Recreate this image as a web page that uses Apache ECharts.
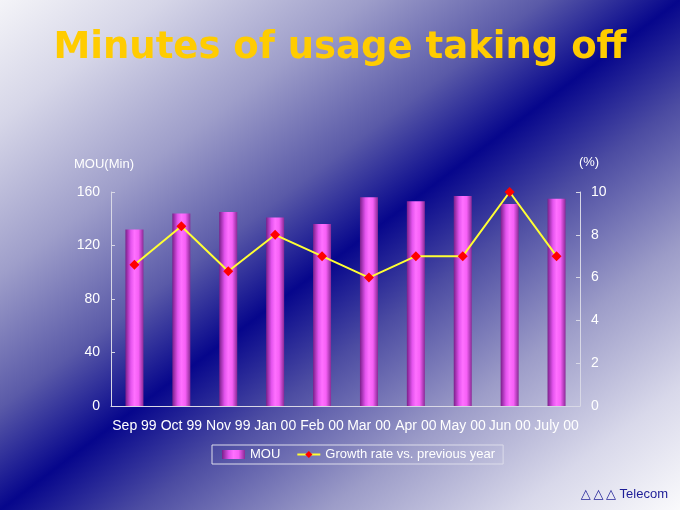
<!DOCTYPE html>
<html>
<head>
<meta charset="utf-8">
<title>Minutes of usage taking off</title>
<script src="https://cdn.jsdelivr.net/npm/echarts@6/dist/echarts.min.js"></script>
<style>
	html, body { margin: 0; padding: 0; }
	#div_chart { width: 680px; height: 510px; }
</style>
</head>
<body>
<div id="div_chart"></div>
<script>
// 横轴月份
var months = ['Sep 99', 'Oct 99', 'Nov 99', 'Jan 00', 'Feb 00', 'Mar 00', 'Apr 00', 'May 00', 'Jun 00', 'July 00'];
// MOU (分钟)
var mou = [132, 144, 145, 141, 136, 156, 153, 157, 151, 155];
// 同比增长率 (%)
var growth = [6.6, 8.4, 6.3, 8.0, 7.0, 6.0, 7.0, 7.0, 10.0, 7.0];
// 坐标轴刻度
var mouTicks = [0, 40, 80, 120, 160];
var rateTicks = [0, 2, 4, 6, 8, 10];

var font = 'Liberation Sans, Arial, DejaVu Sans, sans-serif';
var axisColor = '#d8d8e6';

// 背景: 左上到右下的对角渐变, 中间深蓝
var bg = new echarts.graphic.LinearGradient(95.2, -71.4, 584.8, 581.4, [
	{offset: 0, color: '#f4f4f8'},
	{offset: 0.12, color: '#d6d6e8'},
	{offset: 0.27, color: '#9e9eca'},
	{offset: 0.4, color: '#5a5aa8'},
	{offset: 0.5, color: '#06068c'},
	{offset: 0.6, color: '#4c4ca2'},
	{offset: 0.74, color: '#9c9cc8'},
	{offset: 0.88, color: '#d8d8ea'},
	{offset: 1, color: '#fafafc'}
], true);

// 柱子的圆柱效果
var barColor = new echarts.graphic.LinearGradient(0, 0, 1, 0, [
	{offset: 0, color: '#7a1f8a'},
	{offset: 0.3, color: '#e454ee'},
	{offset: 0.5, color: '#ff70ff'},
	{offset: 0.72, color: '#f660f6'},
	{offset: 1, color: '#8a2a96'}
]);

var option = {
	backgroundColor: bg,
	animation: false,
	title: [{
		text: 'Minutes of usage taking off',
		left: 'center',
		top: 25,
		textStyle: {
			fontFamily: 'DejaVu Sans',
			fontSize: 37,
			fontWeight: 'bold',
			color: '#ffcc00'
		}
	}, {
		// 右下角公司名
		text: '{tri|\u25B3\u2009\u25B3\u2009\u25B3} Telecom',
		right: 7,
		bottom: 4,
		textStyle: {
			fontFamily: font,
			fontSize: 13,
			fontWeight: 'normal',
			color: '#1c1c96',
			rich: {
				tri: {fontFamily: 'DejaVu Sans', fontSize: 13, color: '#1c1c96'}
			}
		}
	}],
	legend: {
		left: 212,
		top: 445,
		padding: [3, 8, 3, 10],
		itemWidth: 23,
		itemHeight: 9,
		itemGap: 16,
		borderColor: '#dcdcea',
		borderWidth: 1,
		textStyle: {fontFamily: font, fontSize: 13, color: '#ffffff'},
		data: [{name: 'MOU', icon: 'rect'}, 'Growth rate vs. previous year']
	},
	grid: {left: 111, right: 100, top: 192, bottom: 104},
	xAxis: {
		type: 'category',
		data: months,
		axisLine: {lineStyle: {color: axisColor}},
		axisTick: {inside: true, length: 5, lineStyle: {color: axisColor}},
		axisLabel: {color: '#ffffff', fontFamily: font, fontSize: 14, margin: 13, interval: 0}
	},
	yAxis: [{
		type: 'value',
		name: 'MOU(Min)',
		nameGap: 21,
		nameTextStyle: {color: '#ffffff', fontFamily: font, fontSize: 13, padding: [0, 14, 0, 0]},
		min: mouTicks[0],
		max: mouTicks[mouTicks.length - 1],
		interval: mouTicks[1] - mouTicks[0],
		splitLine: {show: false},
		axisLine: {show: true, lineStyle: {color: axisColor}},
		axisTick: {show: true, inside: true, length: 4, lineStyle: {color: axisColor}},
		axisLabel: {color: '#ffffff', fontFamily: font, fontSize: 14, margin: 11}
	}, {
		type: 'value',
		name: '(%)',
		nameGap: 23,
		nameTextStyle: {color: '#ffffff', fontFamily: font, fontSize: 13, padding: [0, 0, 0, 18]},
		min: rateTicks[0],
		max: rateTicks[rateTicks.length - 1],
		interval: rateTicks[1] - rateTicks[0],
		splitLine: {show: false},
		axisLine: {show: true, lineStyle: {color: axisColor}},
		axisTick: {show: true, inside: true, length: 4, lineStyle: {color: axisColor}},
		axisLabel: {color: '#ffffff', fontFamily: font, fontSize: 14, margin: 11}
	}],
	series: [{
		name: 'MOU',
		type: 'bar',
		barWidth: 18,
		data: mou,
		itemStyle: {color: barColor}
	}, {
		name: 'Growth rate vs. previous year',
		type: 'line',
		yAxisIndex: 1,
		data: growth,
		symbol: 'diamond',
		symbolSize: 10,
		lineStyle: {color: '#ffff33', width: 2},
		itemStyle: {color: '#ff0000', borderWidth: 0}
	}]
};

var myChart = echarts.init(document.getElementById('div_chart'));
myChart.setOption(option);
</script>
</body>
</html>
